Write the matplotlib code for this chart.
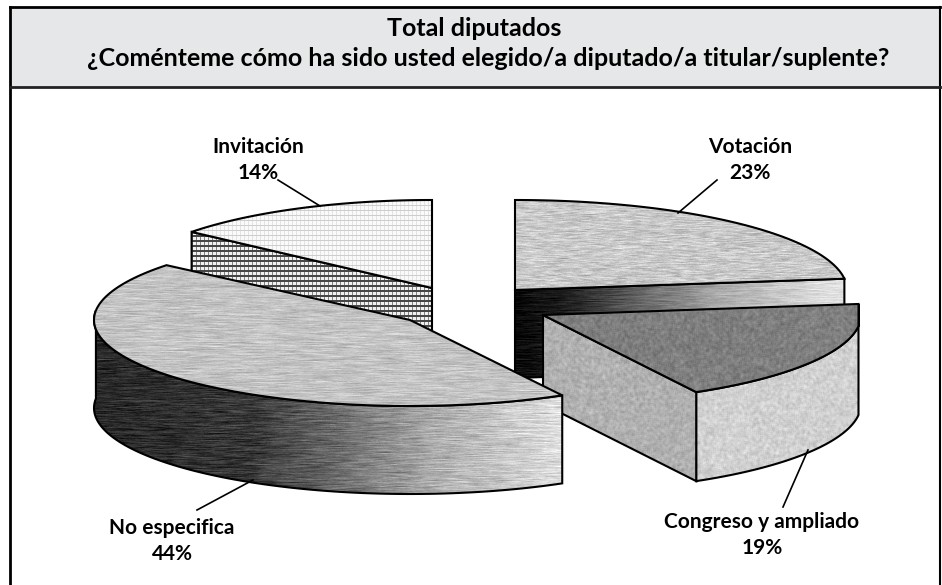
import matplotlib
matplotlib.use("Agg")
import matplotlib.pyplot as plt
import numpy as np
from matplotlib.patches import Polygon, Rectangle

# datos del grafico
categorias = ["Votación", "Congreso y ampliado", "No especifica", "Invitación"]
porcentajes = [23, 19, 44, 14]
titulo = ["Total diputados", "¿Coménteme cómo ha sido usted elegido/a diputado/a titular/suplente?"]

W, H = 942, 585
plt.rcParams['font.family'] = ['Lato', 'DejaVu Sans']

fig = plt.figure(figsize=(W / 100, H / 100), dpi=100)
ax = fig.add_axes([0, 0, 1, 1])
ax.set_xlim(0, W)
ax.set_ylim(H, 0)
ax.set_autoscale_on(False)
ax.axis('off')

X, Y = np.meshgrid(np.arange(W, dtype=float), np.arange(H, dtype=float))
orden = [1]


def grano(sx=1.0, sy=1.0):
    """Ruido determinista para imitar la trama escaneada"""
    v = np.sin(X * 12.9898 * sx + Y * 78.233 * sy) * 43758.5453
    return v - np.floor(v) - 0.5


def suavizar(a, kx=1, ky=1):
    out = np.zeros_like(a)
    for i in range(kx):
        out += np.roll(a, i, axis=1)
    a2 = out / kx
    out = np.zeros_like(a)
    for i in range(ky):
        out += np.roll(a2, i, axis=0)
    return out / ky


# tramas
RAYAS = suavizar(grano(), 15, 1)
RAYAS = RAYAS / RAYAS.std()
ONDAS = suavizar(grano(1.3, 0.7), 9, 1)
ONDAS = ONDAS / ONDAS.std()
MOTA = suavizar(grano(0.9, 1.1), 3, 3)
MOTA = MOTA / MOTA.std()


def cuadricula_clara():
    img = np.full(X.shape, 250.0)
    img[(X % 4) < 1] = 228
    img[(Y % 5) < 1] = 205
    return img


def cuadricula_oscura():
    img = np.full(X.shape, 240.0)
    img[(X % 4) < 1] = 130
    img[(Y % 5) < 2] = 70
    return img


def cara(puntos, img, lw=1.5):
    z = orden[0]
    im = ax.imshow(img, cmap='gray', vmin=0, vmax=255, extent=(0, W, H, 0),
                   aspect='auto', interpolation='bilinear', zorder=z)
    p = Polygon(puntos, closed=True, facecolor='none', edgecolor='black',
                linewidth=lw, joinstyle='miter', zorder=z + 1)
    ax.add_patch(p)
    im.set_clip_path(p)
    orden[0] += 2


def borde(c, rx, ry, a):
    return np.column_stack([c[0] + rx * np.cos(a), c[1] - ry * np.sin(a)])


def porcion(c, rx, ry, prof, a1, a2, tapa, lateral, corte):
    """a1 y a2 en radianes, sentido horario, de a1 hacia a2"""
    c = np.array(c, dtype=float)
    arco = np.linspace(a1, a2, 120)
    xmax = max(c[0] + rx * np.cos(a1), c[0] + rx * np.cos(a2))

    # pared exterior, solo la mitad frontal
    vis = arco[np.sin(arco) <= 0.13]
    if len(vis) > 1 and lateral is not None:
        sup = borde(c, rx, ry, vis)
        sup[:, 0] = np.minimum(sup[:, 0], xmax)
        inf = sup + [0, prof]
        cara(np.vstack([sup, inf[::-1]]), lateral)

    # paredes del corte
    for a, visible in ((a1, np.cos(a1) < -1e-6), (a2, np.cos(a2) > 1e-6)):
        if visible:
            q = borde(c, rx, ry, np.array([a]))[0]
            cara([c, q, q + [0, prof], c + [0, prof]], corte)

    tapa_xy = borde(c, rx, ry, arco)
    tapa_xy[:, 0] = np.minimum(tapa_xy[:, 0], xmax)
    cara(np.vstack([c, tapa_xy]), tapa)


# angulos a partir de los porcentajes, empezando arriba en sentido horario
fin = 90 - np.cumsum(porcentajes) * 3.6
ini = np.concatenate([[90], fin[:-1]])
ini, fin = np.radians(ini), np.radians(fin)

# orden de dibujo: Invitacion, Votacion, Congreso, No especifica
porcion((432, 288), 312, 88, 86, ini[3], fin[3],
        cuadricula_clara(), None, cuadricula_oscura())
porcion((515, 290), 332, 90, 88, ini[0], fin[0],
        200 + 12 * ONDAS, np.full(X.shape, 225.0),
        np.interp(X, [515, 560, 640, 720, 830], [10, 25, 100, 170, 225]) + 8 * RAYAS)
porcion((543, 315), 318, 88, 89, ini[1], fin[1],
        126 + 7 * MOTA, 208 + 7 * MOTA, 176 + 7 * MOTA)
porcion((410, 320), 316, 86, 88, ini[2], fin[2],
        195 + 10 * RAYAS,
        np.interp(X, [95, 250, 340, 430, 565], [40, 55, 110, 170, 225]) + 12 * RAYAS,
        np.full(X.shape, 200.0))

# marco y cabecera, abajo no hay linea
ax.add_patch(Rectangle((10, 7), 930, 80, facecolor='#e6e7e8', edgecolor='none', zorder=0))
ax.plot([10, 10], [7, H], color='black', linewidth=2.0, zorder=50)
ax.plot([940, 940], [7, H], color='black', linewidth=1.5, zorder=50)
ax.plot([10, 940], [7, 7], color='black', linewidth=2.0, zorder=50)
ax.plot([10, 940], [87, 87], color='#222222', linewidth=2.0, zorder=50)

ax.text(474, 29, titulo[0], ha='center', va='center', fontsize=18, fontweight='bold', zorder=60)
ax.text(488, 58, titulo[1], ha='center', va='center', fontsize=18, fontweight='bold', zorder=60)

# etiquetas con lineas guia
etiquetas = [
    (750, 147, (717, 180), (678, 213)),
    (762, 522, (783, 507), (808, 450)),
    (172, 528, (197, 510), (253, 480)),
    (258, 147, (278, 180), (320, 206)),
]
for nombre, pct, (tx, ty, a, b) in zip(categorias, porcentajes, etiquetas):
    ax.plot([a[0], b[0]], [a[1], b[1]], color='black', linewidth=1.2, zorder=55)
    ax.text(tx, ty, nombre, ha='center', va='center', fontsize=15, fontweight='bold', zorder=60)
    ax.text(tx, ty + 26, f"{pct}%", ha='center', va='center', fontsize=15, fontweight='bold', zorder=60)

fig.savefig("out.png", dpi=100, facecolor='white')
